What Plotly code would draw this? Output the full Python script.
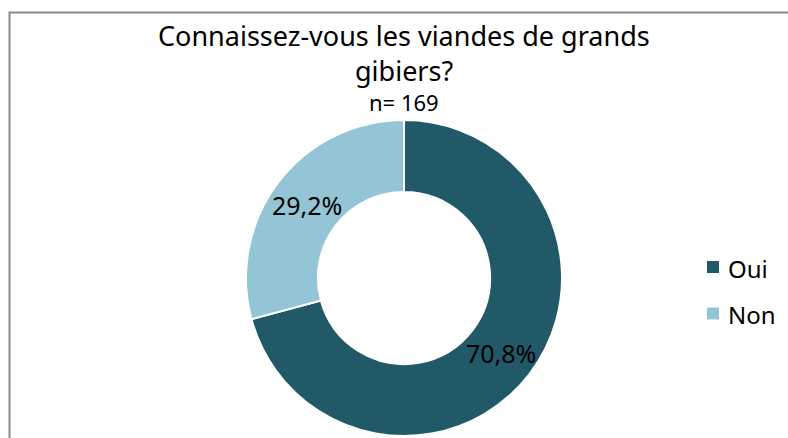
import math
import plotly.graph_objects as go

categories = ["Oui", "Non"]
values = [70.8, 29.2]
value_labels = ["70,8%", "29,2%"]
colors = ["#215968", "#93C5D6"]
title_line1 = "Connaissez-vous les viandes de grands"
title_line2 = "gibiers?"
subtitle = "n= 169"

W, H = 788, 438
cx, cy, r = 404, 278, 158
hole = 0.545
FONT = "Noto Sans"

fig = go.Figure(go.Pie(
    labels=categories,
    values=values,
    textinfo="none",
    hole=hole,
    sort=False,
    direction="clockwise",
    rotation=0,
    marker=dict(colors=colors, line=dict(color="white", width=2)),
    domain=dict(x=[(cx - r) / W, (cx + r) / W], y=[(H - (cy + r)) / H, (H - (cy - r)) / H]),
    hoverinfo="skip",
    showlegend=False,
))

shapes = [dict(type="rect", xref="paper", yref="paper",
               x0=9.5 / W, x1=1.05, y0=-0.05, y1=1 - 12.5 / H,
               line=dict(color="#8a8a8a", width=2), fillcolor="rgba(0,0,0,0)")]
annotations = [
    dict(text=title_line1, x=cx / W, y=1 - 35 / H, xref="paper", yref="paper",
         showarrow=False, xanchor="center", yanchor="middle",
         font=dict(family=FONT, size=27, color="black")),
    dict(text=title_line2, x=cx / W, y=1 - 70 / H, xref="paper", yref="paper",
         showarrow=False, xanchor="center", yanchor="middle",
         font=dict(family=FONT, size=27, color="black")),
    dict(text=subtitle, x=cx / W, y=1 - 102 / H, xref="paper", yref="paper",
         showarrow=False, xanchor="center", yanchor="middle",
         font=dict(family=FONT, size=22, color="black")),
]

# slice labels placed at the middle of each ring segment (derived from values)
total = sum(values)
mid_r = r * (1 + hole) / 2
cum = 0.0
for v, lab in zip(values, value_labels):
    ang = 2 * math.pi * (cum + v / 2) / total
    cum += v
    lx = cx + mid_r * math.sin(ang)
    ly = cy - mid_r * math.cos(ang)
    annotations.append(dict(text=lab, x=lx / W, y=1 - (ly + 1) / H, xref="paper", yref="paper",
                            showarrow=False, xanchor="center", yanchor="middle",
                            font=dict(family=FONT, size=25, color="black")))

# manual legend built from categories / colors
leg_x, leg_y0, leg_dy, sq = 707, 267, 46.5, 12
for i, (cat, col) in enumerate(zip(categories, colors)):
    yc = leg_y0 + i * leg_dy
    shapes.append(dict(type="rect", xref="paper", yref="paper",
                       x0=leg_x / W, x1=(leg_x + sq) / W,
                       y0=1 - (yc + sq / 2) / H, y1=1 - (yc - sq / 2) / H,
                       line=dict(width=0), fillcolor=col))
    annotations.append(dict(text=cat, x=(leg_x + sq + 7) / W, y=1 - (yc + 1) / H,
                            xref="paper", yref="paper", showarrow=False,
                            xanchor="left", yanchor="middle",
                            font=dict(family=FONT, size=24, color="black")))

fig.update_layout(
    width=W, height=H,
    margin=dict(l=0, r=0, t=0, b=0),
    paper_bgcolor="white",
    shapes=shapes,
    annotations=annotations,
)

fig.write_html("out.html", config={"displayModeBar": False})

with open("out.html", "r", encoding="utf-8") as f:
    html = f.read()
html = html.replace("<head>", "<head><style>html,body{margin:0;padding:0;overflow:hidden;}</style>", 1)
with open("out.html", "w", encoding="utf-8") as f:
    f.write(html)
